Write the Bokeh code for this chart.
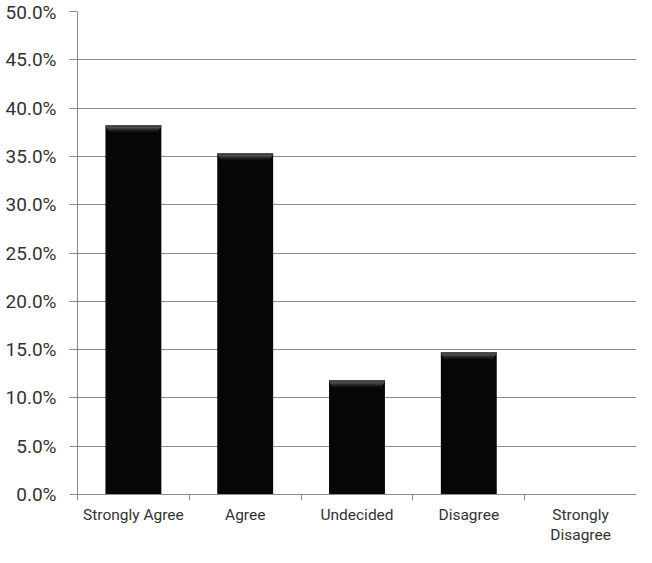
import numpy as np
from bokeh.plotting import figure
from bokeh.models import Range1d, FixedTicker, PrintfTickFormatter, CustomJSTickFormatter, ColumnDataSource
from bokeh.embed import file_html
from bokeh.resources import INLINE

categories = ["Strongly Agree", "Agree", "Undecided", "Disagree", "Strongly\nDisagree"]
percent = [38.2, 35.3, 11.8, 14.7, 0.0]
y_ticks = [0, 5, 10, 15, 20, 25, 30, 35, 40, 45, 50]

FONT = "Roboto"
TEXT = "#333333"
GRID = "#8c8c8c"

n = len(categories)
xs = np.arange(n) + 0.5
vals = np.array(percent)

p = figure(width=636, height=547, output_backend="svg", toolbar_location=None,
           x_range=Range1d(0, n), y_range=Range1d(0, 50),
           min_border_left=77, min_border_right=0, min_border_top=11, min_border_bottom=0)
p.outline_line_color = None
p.background_fill_color = "white"
p.border_fill_color = "white"

src = ColumnDataSource(dict(x=xs, top=vals))
p.vbar(x="x", top="top", bottom=0, width=0.5, source=src,
       fill_color="#060606", line_color=None)

# bevel highlight at the top of each bar
mask = vals > 0
bevel = [(0.0, 0.1, "#1a1a1a", 0.5), (0.1, 0.2, "#727272", 0.49),
         (0.2, 0.3, "#5e5e5e", 0.48), (0.3, 0.4, "#4a4a4a", 0.47),
         (0.4, 0.5, "#363636", 0.46), (0.5, 0.6, "#242424", 0.452),
         (0.6, 0.7, "#151515", 0.446)]
for a, b, c, w in bevel:
    p.vbar(x=xs[mask], top=vals[mask] - a, bottom=vals[mask] - b, width=w,
           fill_color=c, line_color=None)

# y axis
p.yaxis.ticker = FixedTicker(ticks=y_ticks)
p.yaxis.formatter = PrintfTickFormatter(format="%.1f%%")
p.yaxis.axis_line_color = GRID
p.yaxis.major_tick_line_color = GRID
p.yaxis.major_tick_out = 8
p.yaxis.major_tick_in = 0
p.yaxis.minor_tick_line_color = None
p.yaxis.major_label_text_font = FONT
p.yaxis.major_label_text_font_size = "19px"
p.yaxis.major_label_text_color = TEXT
p.yaxis.major_label_standoff = 13

# x axis: labels at centers, ticks at boundaries
p.xaxis.ticker = FixedTicker(ticks=list(xs), minor_ticks=list(range(n + 1)))
p.xaxis.formatter = CustomJSTickFormatter(args=dict(labels=categories),
                                          code="return labels[Math.floor(tick)]")
p.xaxis.axis_line_color = GRID
p.xaxis.major_tick_line_color = None
p.xaxis.major_tick_out = 0
p.xaxis.major_tick_in = 0
p.xaxis.minor_tick_line_color = GRID
p.xaxis.minor_tick_out = 6
p.xaxis.minor_tick_in = 0
p.xaxis.major_label_text_font = FONT
p.xaxis.major_label_text_font_size = "15.5px"
p.xaxis.major_label_text_color = TEXT
p.xaxis.major_label_text_line_height = 1.15
p.xaxis.major_label_standoff = 5

p.xgrid.grid_line_color = None
p.ygrid.ticker = FixedTicker(ticks=y_ticks)
p.ygrid.grid_line_color = GRID
p.ygrid.grid_line_width = 1

open("out.html", "w").write(file_html(p, INLINE))
